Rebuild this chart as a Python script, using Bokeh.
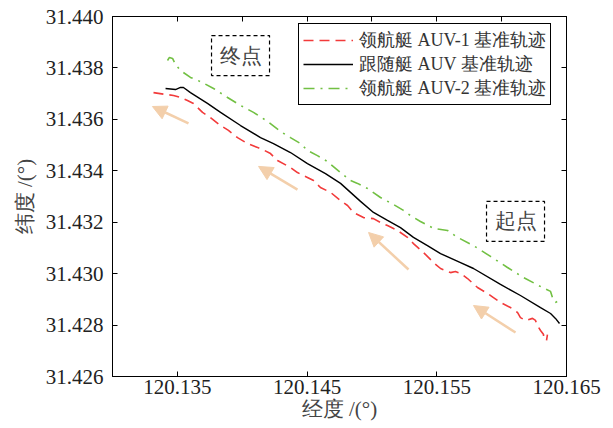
from bokeh.plotting import figure
from bokeh.models import (LinearAxis, FixedTicker, PrintfTickFormatter, Legend, LegendItem,
                          Label, Arrow, NormalHead, Range1d)
from bokeh.embed import file_html
from bokeh.resources import INLINE

# Reference trajectories (longitude, latitude in degrees)
leader1_lon = [120.13316, 120.13409, 120.13470, 120.13524, 120.13578, 120.13624, 120.13694,
               120.13755, 120.13833, 120.13894, 120.13964, 120.14041, 120.14118, 120.14172,
               120.14218, 120.14272, 120.14372, 120.14426, 120.14503, 120.14550, 120.14603,
               120.14681, 120.14758, 120.14812, 120.14858, 120.14935, 120.15012, 120.15066,
               120.15120, 120.15197, 120.15274, 120.15320, 120.15398, 120.15475, 120.15529,
               120.15606, 120.15644, 120.15683, 120.15737, 120.15814, 120.15891, 120.15937,
               120.15991, 120.16068, 120.16122, 120.16145, 120.16184, 120.16238, 120.16261,
               120.16276, 120.16300, 120.16323, 120.16323, 120.16346, 120.16353]
leader1_lat = [31.43704, 31.43697, 31.43693, 31.43685, 31.43673, 31.43662, 31.43627, 31.43607,
               31.43576, 31.43557, 31.43529, 31.43506, 31.43491, 31.43479, 31.43467, 31.43440,
               31.43413, 31.43393, 31.43374, 31.43362, 31.43335, 31.43316, 31.43284, 31.43265,
               31.43238, 31.43218, 31.43214, 31.43199, 31.43187, 31.43168, 31.43141, 31.43117,
               31.43082, 31.43043, 31.43020, 31.43004, 31.43008, 31.43001, 31.42981, 31.42946,
               31.42923, 31.42907, 31.42888, 31.42868, 31.42849, 31.42829, 31.42818, 31.42826,
               31.42818, 31.42798, 31.42779, 31.42763, 31.42748, 31.42740, 31.42763]

follower_lon = [120.13409, 120.13486, 120.13524, 120.13547, 120.13601, 120.13732, 120.13833,
                120.13987, 120.14141, 120.14241, 120.14372, 120.14503, 120.14642, 120.14758,
                120.14912, 120.15012, 120.15120, 120.15220, 120.15320, 120.15428, 120.15529,
                120.15683, 120.15783, 120.15991, 120.16145, 120.16300, 120.16377, 120.16415,
                120.16446]
follower_lat = [31.43720, 31.43716, 31.43724, 31.43724, 31.43704, 31.43662, 31.43627, 31.43576,
                31.43529, 31.43506, 31.43471, 31.43428, 31.43389, 31.43351, 31.43281, 31.43238,
                31.43207, 31.43179, 31.43141, 31.43109, 31.43078, 31.43043, 31.43020, 31.42958,
                31.42915, 31.42868, 31.42845, 31.42826, 31.42806]

leader2_lon = [120.13424, 120.13439, 120.13463, 120.13486, 120.13524, 120.13601, 120.13678,
               120.13779, 120.13887, 120.13987, 120.14087, 120.14195, 120.14295, 120.14372,
               120.14449, 120.14503, 120.14580, 120.14657, 120.14758, 120.14835, 120.14889,
               120.14966, 120.15066, 120.15166, 120.15243, 120.15297, 120.15374, 120.15475,
               120.15583, 120.15660, 120.15783, 120.15914, 120.16045, 120.16168, 120.16315,
               120.16377, 120.16392, 120.16415, 120.16446]
leader2_lat = [31.43829, 31.43841, 31.43837, 31.43813, 31.43790, 31.43763, 31.43747, 31.43720,
               31.43685, 31.43654, 31.43627, 31.43592, 31.43553, 31.43529, 31.43506, 31.43479,
               31.43459, 31.43436, 31.43393, 31.43362, 31.43351, 31.43331, 31.43296, 31.43269,
               31.43246, 31.43226, 31.43203, 31.43176, 31.43168, 31.43141, 31.43109, 31.43067,
               31.43024, 31.42985, 31.42946, 31.42931, 31.42907, 31.42888, 31.42896]

# Direction-of-travel arrows (tail -> head)
arrow_tail_lon = [120.13586, 120.14426, 120.15282, 120.16107]
arrow_tail_lat = [31.43584, 31.43327, 31.43016, 31.42771]
arrow_head_lon = [120.13308, 120.14126, 120.14974, 120.15783]
arrow_head_lat = [31.43650, 31.43417, 31.43160, 31.42876]

lat_ticks = [31.426, 31.428, 31.430, 31.432, 31.434, 31.436, 31.438, 31.440]
lon_ticks = [120.135, 120.145, 120.155, 120.165]
lon_minor = [120.135, 120.140, 120.145, 120.150, 120.155, 120.160, 120.165]

series_names = ["领航艇 AUV-1 基准轨迹", "跟随艇 AUV 基准轨迹", "领航艇 AUV-2 基准轨迹"]

FONT = "Liberation Serif"
RED = "#f23a3a"
GREEN = "#72c043"
TAN = "#f3cfab"

p = figure(width=613, height=428, output_backend="svg", toolbar_location=None,
           x_range=Range1d(120.130, 120.165), y_range=Range1d(31.426, 31.440),
           x_axis_type=None, y_axis_type=None,
           min_border_left=112, min_border_right=47, min_border_top=16, min_border_bottom=52)
p.grid.visible = False
p.outline_line_color = "black"
p.background_fill_color = "white"


def style_axis(ax):
    ax.axis_line_color = "black"
    ax.axis_line_width = 1
    ax.major_tick_in = 5
    ax.major_tick_out = 0
    ax.minor_tick_in = 5
    ax.minor_tick_out = 0
    ax.major_tick_line_color = "black"
    ax.minor_tick_line_color = "black"
    ax.major_label_text_font = FONT
    ax.major_label_text_font_size = "21px"
    ax.major_label_text_color = "#222222"
    ax.axis_label_text_font = FONT
    ax.axis_label_text_font_size = "21px"
    ax.axis_label_text_font_style = "normal"
    ax.axis_label_text_color = "#444444"


left = LinearAxis(ticker=FixedTicker(ticks=lat_ticks),
                  formatter=PrintfTickFormatter(format="%.3f"), axis_label="纬度 /(°)")
style_axis(left)
left.major_label_standoff = 9
left.axis_label_standoff = 6
p.add_layout(left, "left")

bottom = LinearAxis(ticker=FixedTicker(ticks=lon_ticks),
                    formatter=PrintfTickFormatter(format="%.3f"), axis_label="经度 /(°)")
style_axis(bottom)
bottom.major_label_standoff = 3
bottom.axis_label_standoff = 0
p.add_layout(bottom, "below")

# Mirror axes carry only tick marks (no labels)
top = LinearAxis(ticker=FixedTicker(ticks=[], minor_ticks=lon_minor))
style_axis(top)
p.add_layout(top, "above")

right = LinearAxis(ticker=FixedTicker(ticks=[], minor_ticks=lat_ticks))
style_axis(right)
p.add_layout(right, "right")

# Direction arrows
for tx, ty, hx, hy in zip(arrow_tail_lon, arrow_tail_lat, arrow_head_lon, arrow_head_lat):
    p.add_layout(Arrow(x_start=tx, y_start=ty, x_end=hx, y_end=hy,
                       line_color=TAN, line_width=2.5,
                       end=NormalHead(size=14, fill_color=TAN, line_color=TAN, line_width=1)))

r1 = p.line(leader1_lon, leader1_lat, line_color=RED, line_width=1.6, line_dash="10 6")
r2 = p.line(follower_lon, follower_lat, line_color="black", line_width=1.4)
r3 = p.line(leader2_lon, leader2_lat, line_color=GREEN, line_width=1.6, line_dash="11 6 2 6")

legend = Legend(items=[LegendItem(label=series_names[0], renderers=[r1]),
                       LegendItem(label=series_names[1], renderers=[r2]),
                       LegendItem(label=series_names[2], renderers=[r3])],
                location=(186, 271))
legend.border_line_color = "black"
legend.border_line_width = 1
legend.border_line_alpha = 1
legend.background_fill_alpha = 1
legend.padding = 4
legend.spacing = 0
legend.margin = 0
legend.label_height = 22
legend.glyph_height = 22
legend.glyph_width = 50
legend.label_standoff = 6
legend.label_text_font = FONT
legend.label_text_font_size = "18px"
legend.label_text_color = "#333333"
p.add_layout(legend)

for txt, lx, ly in [("终点", 120.13987, 31.43848), ("起点", 120.16107, 31.43203)]:
    p.add_layout(Label(x=lx, y=ly, text=txt, text_align="center", text_baseline="middle",
                       text_font=FONT, text_font_size="21px", text_color="#444444",
                       border_line_color="black", border_line_dash="4 3", border_line_width=1.2,
                       background_fill_color="white", padding=8))

open("out.html", "w").write(file_html(p, INLINE))
